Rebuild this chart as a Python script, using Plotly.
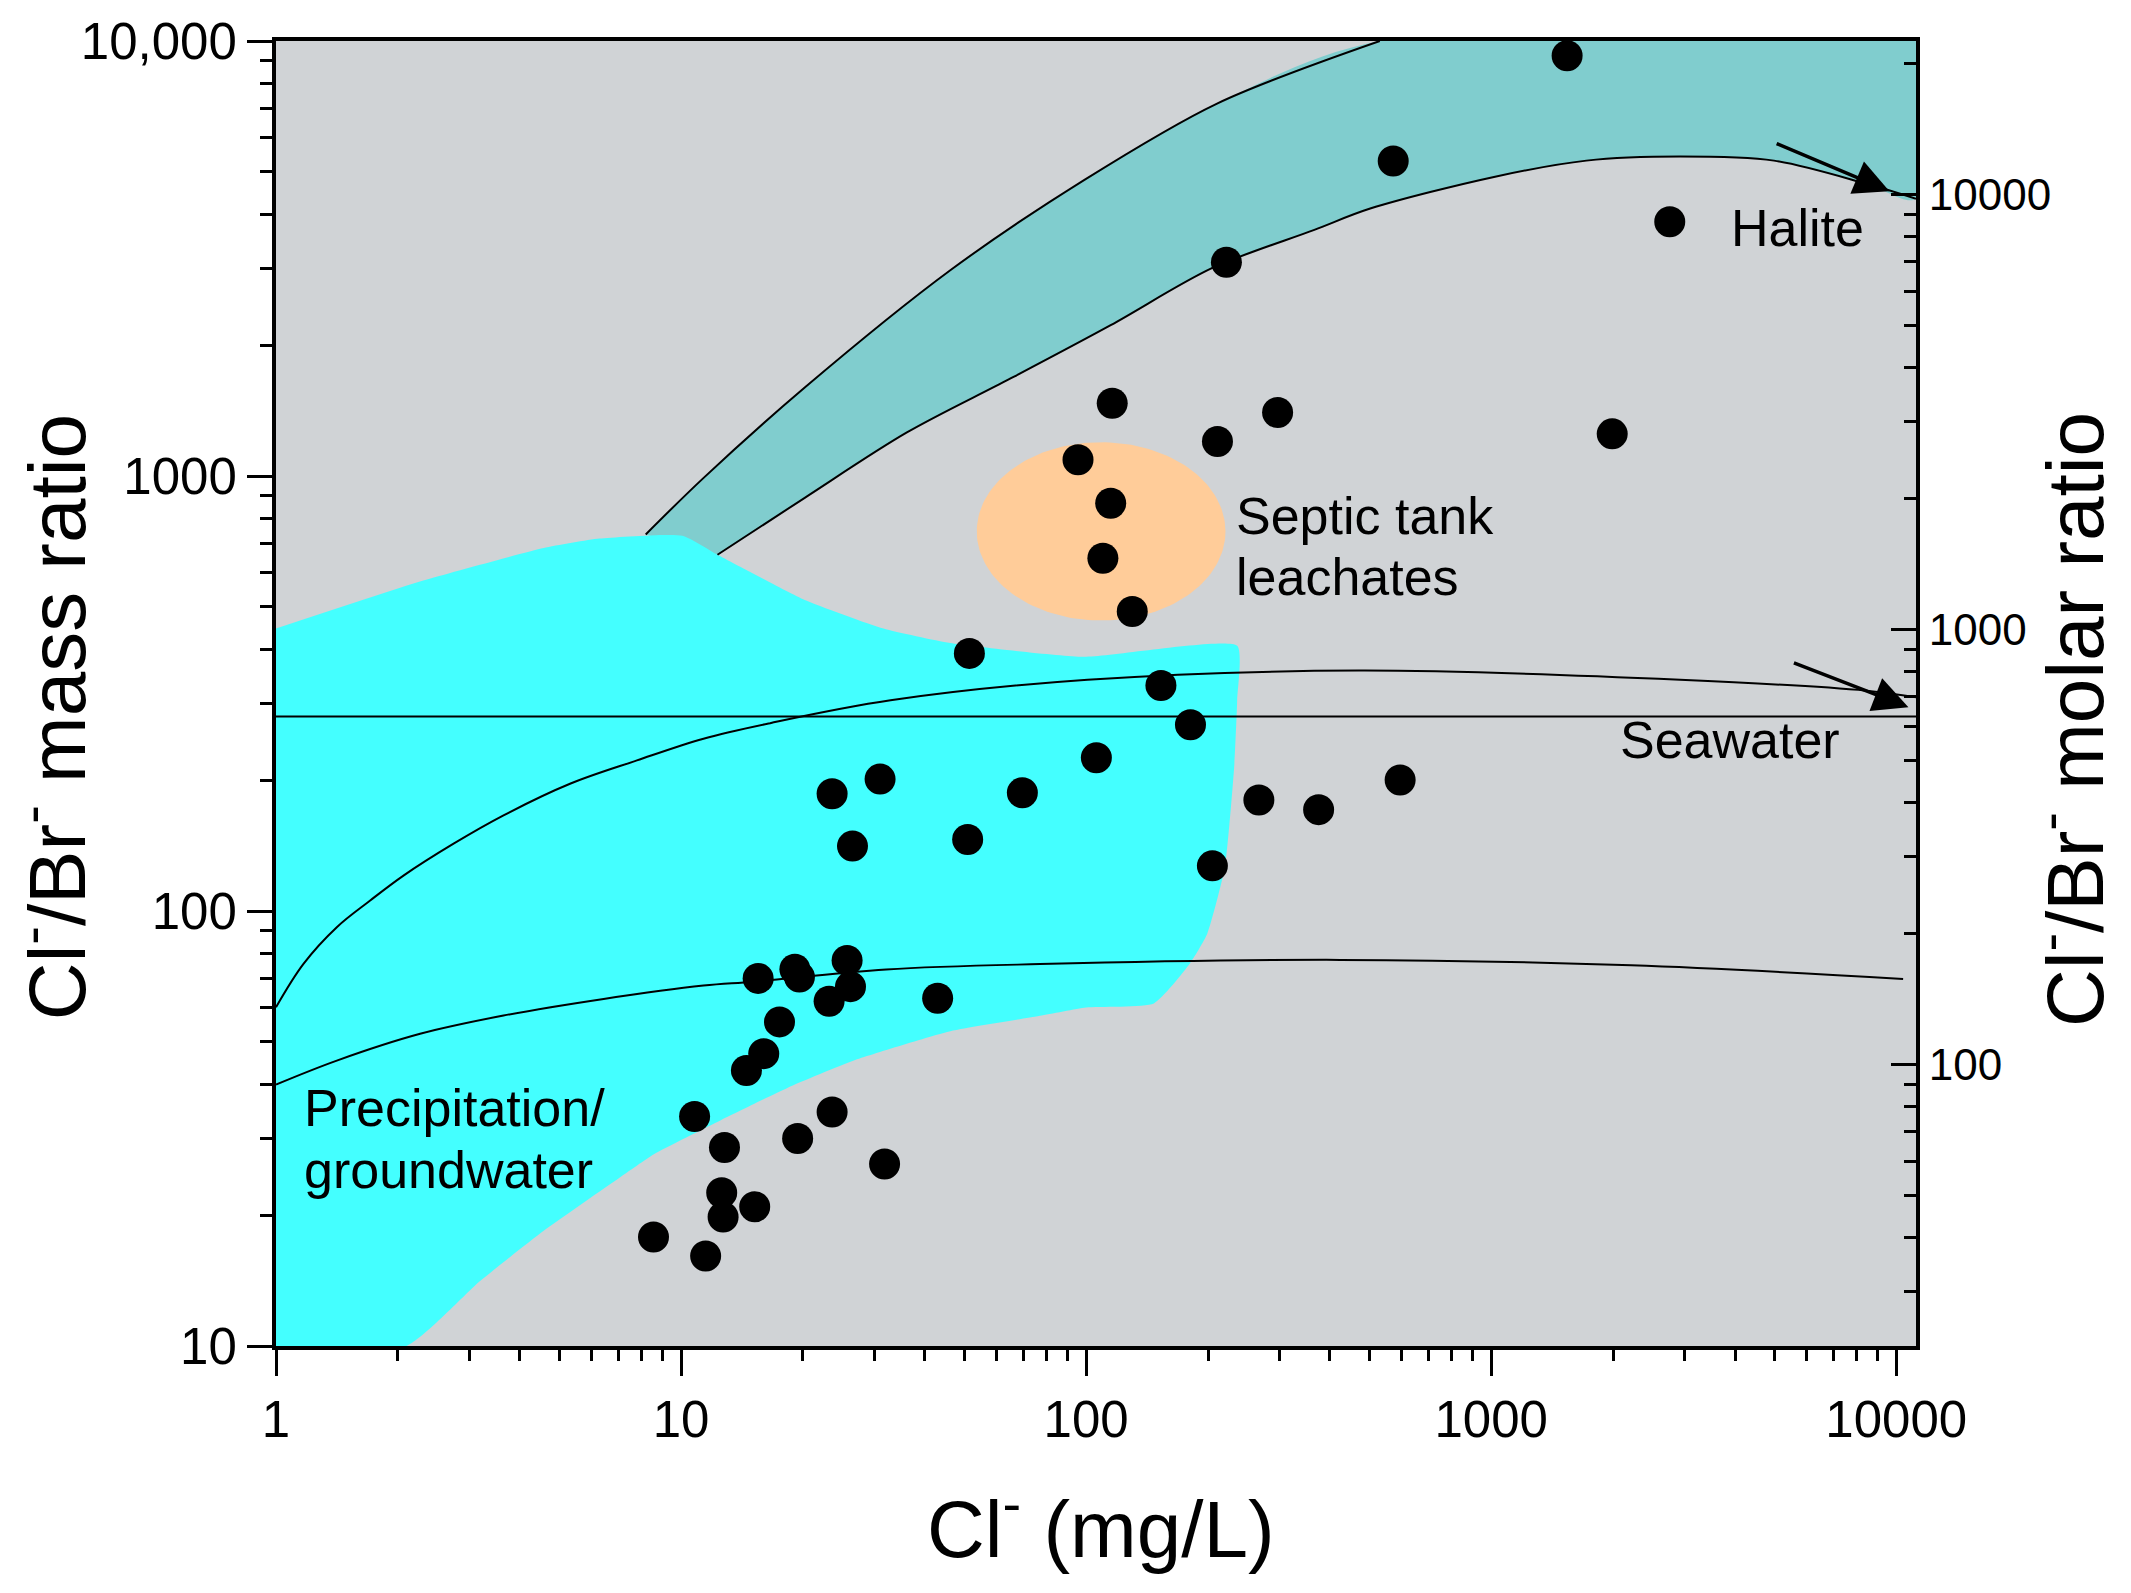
import numpy as np
import plotly.graph_objects as go

# ---------------- data ----------------
cl_mgL = [1540, 573, 2760, 222, 116, 297, 211, 1990, 95.5, 115,
          110, 130, 51.5, 153, 181, 106, 31, 23.6, 69.6, 596,
          267, 375, 26.5, 51, 205, 25.7, 15.5, 19.1, 19.6, 26.2,
          43, 23.2, 17.5, 16, 14.5, 10.8, 23.6, 19.4, 12.8, 31.8,
          12.6, 12.7, 15.2, 8.55, 11.5]
clbr_mass = [9250, 5300, 3840, 3100, 1470, 1400, 1200, 1250, 1090, 866,
             647, 488, 391, 330, 268, 225, 201, 186, 187, 200,
             180, 171, 141, 146, 127, 77, 70, 73.5, 70.5, 67,
             63, 62, 55.6, 47, 43, 33.7, 34.5, 30, 28.6, 26.2,
             22.5, 19.8, 20.9, 17.8, 16.1]

# Halite dissolution band
halite_upper_x = [8.18, 11.3, 20.2, 46.2, 98.6, 210.5, 531]
halite_upper_y = [734, 985, 1597, 2971, 4783, 7182, 10000]
halite_lower_x = [12.3, 20.2, 36.1, 64.4, 115, 205, 366, 502.8, 1016, 1718, 2926, 4990, 8440, 11190]
halite_lower_y = [659, 891, 1259, 1667, 2222, 3008, 3680, 4119, 4870, 5309, 5425, 5309, 4697, 4340]

# Precipitation / groundwater field
precip_x = [1, 2.31, 4.58, 6.29, 10.08, 12.3, 15.1, 20.2, 31.6, 46.2, 98.5, 236,
            236, 232, 220, 199, 180, 147, 100, 76.9, 46.9, 26.7, 18.3, 12.5,
            8.57, 7.06, 4.58, 3.19, 2.10, 1]
precip_y = [446, 575, 683, 718, 729, 659, 596, 519, 446, 413, 384, 407,
            305, 214, 126, 88.5, 75.5, 61.3, 60, 57.4, 53.1, 45.3, 39.2, 33.0,
            27.6, 24.4, 18.4, 14.1, 10, 10]

# mixing curves
mix_upper_x = [1.0, 1.169, 1.413, 1.708, 2.064, 2.744, 3.645, 5.32, 7.78, 11.36, 16.6,
               32.9, 100.8, 472, 2926, 8440, 11190]
mix_upper_y = [60.1, 75.6, 91.8, 105.7, 120.6, 142.8, 165.9, 196.1, 221.9, 248.9, 270.3,
               305, 340, 357, 340, 321, 310]
mix_lower_x = [1.0, 1.413, 2.269, 3.645, 6.44, 11.36, 15.1, 32.1, 76.9, 424, 2218, 10400]
mix_lower_y = [39.9, 45.3, 52.2, 57.5, 62.8, 67.4, 68.8, 73.4, 75.5, 77.2, 75, 69.8]

seawater_ratio = 280
x_span = [1, 11190]

# septic tank leachate field (ellipse in log space)
septic_center = (108.9, 746)
septic_half_decades = (0.307, 0.205)

# arrows (tail -> head)
halite_arrow = ((5025, 5830), (9620, 4517))
seawater_arrow = ((5543, 373), (10720, 294))

molar_factor = 79.904 / 35.453

x_ticks = [1, 10, 100, 1000, 10000]
x_ticktext = ["1", "10", "100", "1000", "10000"]
y_ticks = [10, 100, 1000, 10000]
y_ticktext = ["10", "100", "1000", "10,000"]
y2_ticks = [100, 1000, 10000]
y2_ticktext = ["100", "1000", "10000"]

# ---------------- styling ----------------
FONT = "Liberation Sans, Arial, sans-serif"
NARROW = "Liberation Sans Narrow, Arial Narrow, Liberation Sans, Arial, sans-serif"
BG = "#D0D3D6"
TEAL = "#80CDCE"
CYAN = "#44FFFF"
PEACH = "#FFCC99"
SMOOTH = 0.9

fig = go.Figure()

# halite band fill
band_x = halite_upper_x + [x_span[1]] + halite_lower_x[::-1]
band_y = halite_upper_y + [10000] + halite_lower_y[::-1]
fig.add_trace(go.Scatter(x=band_x, y=band_y, mode="lines", fill="toself",
                         fillcolor=TEAL, line=dict(width=0, shape="spline", smoothing=SMOOTH),
                         hoverinfo="skip", showlegend=False))

# precipitation field
fig.add_trace(go.Scatter(x=precip_x, y=precip_y, mode="lines", fill="toself",
                         fillcolor=CYAN, line=dict(width=0, shape="spline", smoothing=0.5),
                         hoverinfo="skip", showlegend=False))

# septic ellipse
t = np.linspace(0, 2 * np.pi, 181)
ex = 10 ** (np.log10(septic_center[0]) + septic_half_decades[0] * np.cos(t))
ey = 10 ** (np.log10(septic_center[1]) + septic_half_decades[1] * np.sin(t))
fig.add_trace(go.Scatter(x=ex, y=ey, mode="lines", fill="toself", fillcolor=PEACH,
                         line=dict(width=0), hoverinfo="skip", showlegend=False))

# band edges
for xs, ys in [(halite_upper_x, halite_upper_y), (halite_lower_x, halite_lower_y)]:
    fig.add_trace(go.Scatter(x=xs, y=ys, mode="lines",
                             line=dict(color="black", width=2, shape="spline", smoothing=SMOOTH),
                             hoverinfo="skip", showlegend=False))

# mixing curves
for xs, ys in [(mix_upper_x, mix_upper_y), (mix_lower_x, mix_lower_y)]:
    fig.add_trace(go.Scatter(x=xs, y=ys, mode="lines",
                             line=dict(color="black", width=2, shape="spline", smoothing=1.0),
                             hoverinfo="skip", showlegend=False))

# seawater line
fig.add_trace(go.Scatter(x=x_span, y=[seawater_ratio, seawater_ratio], mode="lines",
                         line=dict(color="black", width=2), hoverinfo="skip", showlegend=False))

# samples
fig.add_trace(go.Scatter(x=cl_mgL, y=clbr_mass, mode="markers",
                         marker=dict(size=31, color="black", line=dict(width=0)),
                         showlegend=False))

# invisible trace on right axis (molar ratio)
fig.add_trace(go.Scatter(x=[cl_mgL[0]], y=[clbr_mass[0] * molar_factor], yaxis="y2",
                         mode="markers", marker=dict(opacity=0), hoverinfo="skip",
                         showlegend=False))


def minor_vals(lo, hi):
    vals = []
    for d in range(lo, hi + 1):
        for m in range(2, 10):
            vals.append(m * 10 ** d)
    return vals


axis_common = dict(type="log", showgrid=False, zeroline=False, showline=True,
                   linecolor="black", linewidth=4, tickcolor="black",
                   tickfont=dict(family=FONT, size=51, color="black"))

fig.update_layout(
    width=2131, height=1593,
    margin=dict(l=276, r=215, t=41, b=247),
    paper_bgcolor="white", plot_bgcolor=BG,
    font=dict(family=FONT, color="black"),
    xaxis=dict(**axis_common, range=[0, np.log10(x_span[1])], mirror=True,
               ticks="outside", ticklen=26, tickwidth=3,
               tickmode="array", tickvals=x_ticks, ticktext=x_ticktext,
               minor=dict(ticks="outside", ticklen=11, tickwidth=2.5, tickcolor="black",
                          tickmode="array", tickvals=minor_vals(0, 3), showgrid=False)),
    yaxis=dict(**axis_common, range=[1, 4], mirror=True,
               ticks="outside", ticklen=25, tickwidth=3,
               tickmode="array", tickvals=y_ticks, ticktext=y_ticktext,
               minor=dict(ticks="outside", ticklen=12, tickwidth=2.5, tickcolor="black",
                          tickmode="array", tickvals=minor_vals(1, 3), showgrid=False)),
    yaxis2=dict(type="log", overlaying="y", side="right", anchor="x",
                range=[np.log10(10 * molar_factor), np.log10(10000 * molar_factor)],
                showgrid=False, zeroline=False, showline=True, linecolor="black", linewidth=4,
                ticks="inside", ticklen=25, tickwidth=3, tickcolor="black",
                tickmode="array", tickvals=y2_ticks, ticktext=y2_ticktext,
                tickfont=dict(family=NARROW, size=44, color="black"),
                minor=dict(ticks="inside", ticklen=12, tickwidth=2.5, tickcolor="black",
                           tickmode="array", tickvals=minor_vals(1, 4), showgrid=False)),
)

TXT = dict(family=FONT, size=52, color="black")
ann = [
    dict(text="Halite", x=0.886, y=0.857),
    dict(text="Septic tank", x=0.584, y=0.636),
    dict(text="leachates", x=0.584, y=0.589),
    dict(text="Seawater", x=0.818, y=0.464),
    dict(text="Precipitation/", x=0.016, y=0.182),
    dict(text="groundwater", x=0.016, y=0.135),
]
for a in ann:
    fig.add_annotation(text=a["text"], x=a["x"], y=a["y"], xref="paper", yref="paper",
                       xanchor="left", yanchor="middle", showarrow=False, font=TXT)

TITLE = dict(family=FONT, size=80, color="black")
fig.add_annotation(text="Cl<sup>-</sup>/Br<sup>-</sup> mass ratio", x=-0.137, y=0.482,
                   xref="paper", yref="paper", textangle=-90, showarrow=False,
                   xanchor="center", yanchor="middle", font=TITLE)
fig.add_annotation(text="Cl<sup>-</sup>/Br<sup>-</sup> molar ratio", x=1.093, y=0.480,
                   xref="paper", yref="paper", textangle=-90, showarrow=False,
                   xanchor="center", yanchor="middle", font=TITLE)
fig.add_annotation(text="Cl<sup>-</sup> (mg/L)", x=0.503, y=-0.136,
                   xref="paper", yref="paper", showarrow=False,
                   xanchor="center", yanchor="middle", font=TITLE)

for (tail, head) in [halite_arrow, seawater_arrow]:
    fig.add_annotation(x=np.log10(head[0]), y=np.log10(head[1]),
                       ax=np.log10(tail[0]), ay=np.log10(tail[1]),
                       xref="x", yref="y", axref="x", ayref="y",
                       showarrow=True, arrowhead=2, arrowsize=2, arrowwidth=3.5,
                       arrowcolor="black", standoff=0, text="")

fig.write_html("out.html", config={"displayModeBar": False},
               post_script="document.body.style.margin='0';")
